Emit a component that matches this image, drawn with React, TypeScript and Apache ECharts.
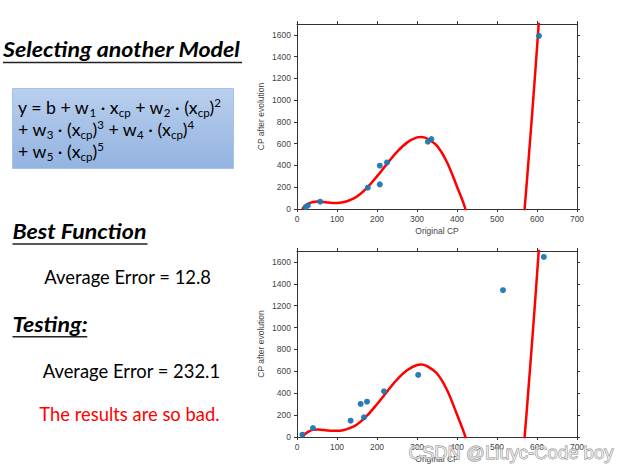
import React, { useEffect, useRef } from "react";
import * as echarts from "echarts";

// ---- data ----
const xTickValues = [0, 100, 200, 300, 400, 500, 600, 700];
const yTickValues = [0, 200, 400, 600, 800, 1000, 1200, 1400, 1600];

const trainX = [22, 27, 58, 177, 207, 207, 225, 327, 336, 605];
const trainY = [18, 32, 67, 196, 398, 226, 428, 618, 643, 1591];

const testX = [13.5, 40, 134, 159, 167.5, 175, 217.5, 303, 515, 617];
const testY = [21, 82, 149, 302, 180, 323, 418, 567, 1342, 1646];

// fitted degree-5 model (null = gap below the axis)
const curveX = [13, 20, 30, 40, 50, 60, 75, 90, 100, 115, 130, 150, 175, 200, 225, 250, 275, 300, 310, 325, 350, 375, 400, 421, 435, null, 560, 569, 578, 587, 596, 605, 612];
const curveY = [0, 28, 52, 65, 69, 67, 60, 56, 56, 62, 78, 115, 195, 300, 415, 525, 610, 658, 662, 648, 580, 430, 205, 0, -230, null, -330, 0, 410, 835, 1275, 1740, 2120];

const axisColor = "#333";
const labelColor = "#444";
const tickFont = "Liberation Sans";
const tickSize = 8.5;

function pairs(xs: (number | null)[], ys: (number | null)[]) {
  return xs.map((x, i) => (x === null || ys[i] === null ? [null, null] : [x, ys[i]]));
}

const plainNumber = (v: number) => String(v);

function xAxes(gridIndex: number) {
  const common = {
    type: "value",
    gridIndex,
    min: 0,
    max: 700,
    interval: 100,
    splitLine: { show: false },
    axisLine: { show: true, onZero: false, lineStyle: { color: axisColor, width: 1 } },
    axisTick: { show: true, inside: false, length: 3, lineStyle: { color: axisColor }, customValues: xTickValues },
  };
  return [
    {
      ...common,
      position: "bottom",
      axisLabel: { color: labelColor, fontSize: tickSize, fontFamily: tickFont, margin: 5, customValues: xTickValues, formatter: plainNumber },
      name: "Original CP",
      nameLocation: "middle",
      nameGap: 17,
      nameTextStyle: { color: labelColor, fontSize: tickSize, fontFamily: tickFont },
    },
    { ...common, position: "top", axisLabel: { show: false } },
  ];
}

function yAxes(gridIndex: number) {
  const common = {
    type: "value",
    gridIndex,
    min: 0,
    max: 1700,
    splitLine: { show: false },
    axisLine: { show: true, onZero: false, lineStyle: { color: axisColor, width: 1 } },
    axisTick: { show: true, inside: false, length: 3, lineStyle: { color: axisColor }, customValues: yTickValues },
  };
  return [
    {
      ...common,
      position: "left",
      axisLabel: { color: labelColor, fontSize: tickSize, fontFamily: tickFont, margin: 6, customValues: yTickValues, formatter: plainNumber },
      name: "CP after evolution",
      nameLocation: "middle",
      nameGap: 32,
      nameTextStyle: { color: labelColor, fontSize: tickSize, fontFamily: tickFont },
    },
    { ...common, position: "right", axisLabel: { show: false } },
  ];
}

function seriesFor(gridIdx: number, xs: number[], ys: number[]) {
  const ax = gridIdx * 2;
  return [
    {
      type: "line",
      xAxisIndex: ax,
      yAxisIndex: ax,
      data: pairs(curveX, curveY),
      smooth: 0.35,
      showSymbol: false,
      clip: true,
      connectNulls: false,
      lineStyle: { color: "#ff0000", width: 2.5 },
      z: 2,
    },
    {
      type: "scatter",
      xAxisIndex: ax,
      yAxisIndex: ax,
      data: pairs(xs, ys),
      symbolSize: 6,
      itemStyle: { color: "#1f77b4", opacity: 0.95 },
      z: 3,
    },
  ];
}

const bodyFont = "Lato";

function heading(text: string, x: number, y: number, underlineEnd: number, underlineY: number) {
  return [
    {
      type: "text",
      x,
      y,
      scaleX: 1.16,
      style: {
        text,
        fill: "#000",
        fontSize: 20,
        fontFamily: bodyFont,
        fontWeight: "bold",
        fontStyle: "italic",
        align: "left",
        textAlign: "left",
        verticalAlign: "middle",
        textVerticalAlign: "middle",
      },
    },
    {
      type: "line",
      shape: { x1: x, y1: underlineY, x2: underlineEnd, y2: underlineY },
      style: { stroke: "#222", lineWidth: 1.5 },
    },
  ];
}

function plainText(text: string, x: number, y: number, color = "#000", size = 18.4) {
  return {
    type: "text",
    x,
    y,
    style: {
      text,
      fill: color,
      fontSize: size,
      fontFamily: bodyFont,
      align: "left",
      textAlign: "left",
      verticalAlign: "middle",
      textVerticalAlign: "middle",
    },
  };
}

const richStyles = {
  n: { fontSize: 17.7, fontFamily: bodyFont, fill: "#000", lineHeight: 22, verticalAlign: "middle" },
  sub: { fontSize: 11.5, fontFamily: bodyFont, fill: "#000", lineHeight: 12, verticalAlign: "bottom" },
  sup: { fontSize: 11.5, fontFamily: bodyFont, fill: "#000", lineHeight: 12, verticalAlign: "top" },
};

const formulaLines = [
  "{n|y = b + w}{sub|1}{n| · x}{sub|cp}{n| + w}{sub|2}{n| · (x}{sub|cp}{n|)}{sup|2}",
  "{n|+ w}{sub|3}{n| · (x}{sub|cp}{n|)}{sup|3}{n| + w}{sub|4}{n| · (x}{sub|cp}{n|)}{sup|4}",
  "{n|+ w}{sub|5}{n| · (x}{sub|cp}{n|)}{sup|5}",
];

function formulaLine(text: string, y: number) {
  return {
    type: "text",
    x: 18,
    y,
    style: {
      text,
      rich: richStyles,
      align: "left",
      textAlign: "left",
      verticalAlign: "middle",
      textVerticalAlign: "middle",
    },
  };
}

export default function App() {
  const ref = useRef<HTMLDivElement>(null);
  useEffect(() => {
    if (!ref.current) return;
    const chart = echarts.init(ref.current, null, { renderer: "svg" });
    const option = {
      animation: false,
      backgroundColor: "#fff",
      grid: [
        { left: 297, top: 24, width: 280, height: 185 },
        { left: 297, top: 251, width: 280, height: 186 },
      ],
      xAxis: [...xAxes(0), ...xAxes(1)],
      yAxis: [...yAxes(0), ...yAxes(1)],
      series: [...seriesFor(0, trainX, trainY), ...seriesFor(1, testX, testY)],
      graphic: {
        elements: [
          ...heading("Selecting another Model", 3, 50, 242, 62.5),
          {
            type: "rect",
            shape: { x: 12.5, y: 88.5, width: 221, height: 80 },
            style: {
              fill: new echarts.graphic.LinearGradient(0, 0, 0, 1, [
                { offset: 0, color: "#b9cfee" },
                { offset: 1, color: "#93b3e0" },
              ]),
              stroke: "#a9c3e8",
              lineWidth: 1,
            },
          },
          formulaLine(formulaLines[0], 107),
          formulaLine(formulaLines[1], 129),
          formulaLine(formulaLines[2], 151),
          ...heading("Best Function", 12.5, 232, 147.5, 244),
          plainText("Average Error = 12.8", 44.3, 276.7),
          ...heading("Testing:", 12.5, 325, 87.3, 336.7),
          plainText("Average Error = 232.1", 42.7, 371),
          plainText("The results are so bad.", 39.3, 414, "#ff0000"),
          {
            type: "text",
            x: 511,
            y: 452,
            z: 100,
            style: {
              text: "CSDN @Liuyc-Code boy",
              fill: "rgba(240,240,240,0.75)",
              stroke: "#808080",
              lineWidth: 0.8,
              fontSize: 18.5,
              fontFamily: "Liberation Sans",
              align: "center",
              textAlign: "center",
              verticalAlign: "middle",
              textVerticalAlign: "middle",
            },
          },
        ],
      },
    };
    chart.setOption(option as any);
    return () => chart.dispose();
  }, []);
  return (
    <div
      ref={ref}
      style={{ position: "fixed", left: 0, top: 0, width: 630, height: 473, background: "#fff" }}
    />
  );
}
